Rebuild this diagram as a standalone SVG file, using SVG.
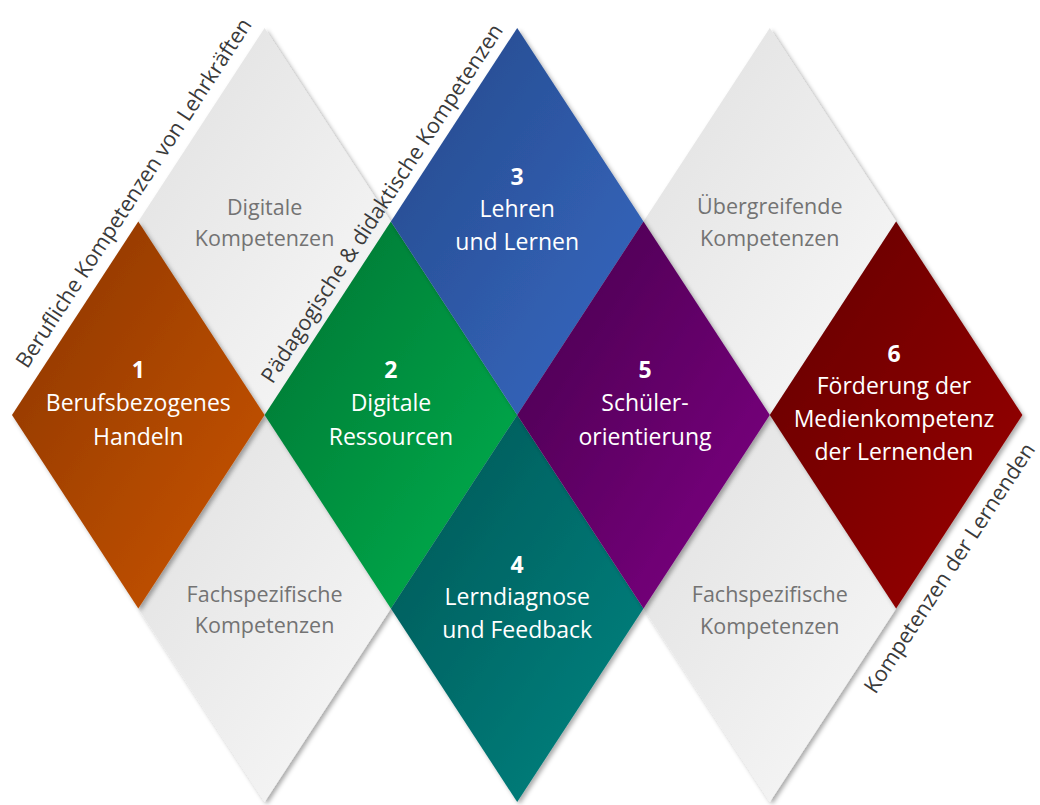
<svg xmlns="http://www.w3.org/2000/svg" width="1040" height="805" viewBox="0 0 1040 805">
  <defs>
    <filter id="sh" x="-10%" y="-10%" width="125%" height="125%">
      <feDropShadow dx="2.5" dy="2.5" stdDeviation="2" flood-color="#000" flood-opacity="0.33"/>
    </filter>
    <linearGradient id="gGray" x1="0" y1="0" x2="1" y2="1">
      <stop offset="0" stop-color="#e0e0e0"/>
      <stop offset="1" stop-color="#f9f9f9"/>
    </linearGradient>
    <linearGradient id="gOrange" x1="0" y1="0" x2="1" y2="1">
      <stop offset="0" stop-color="#8a3500"/>
      <stop offset="1" stop-color="#cc5600"/>
    </linearGradient>
    <linearGradient id="gGreen" x1="0" y1="0" x2="1" y2="1">
      <stop offset="0" stop-color="#007232"/>
      <stop offset="1" stop-color="#00b24e"/>
    </linearGradient>
    <linearGradient id="gBlue" x1="0" y1="0" x2="1" y2="1">
      <stop offset="0" stop-color="#25488a"/>
      <stop offset="1" stop-color="#376ac4"/>
    </linearGradient>
    <linearGradient id="gTeal" x1="0" y1="0" x2="1" y2="1">
      <stop offset="0" stop-color="#005656"/>
      <stop offset="1" stop-color="#008682"/>
    </linearGradient>
    <linearGradient id="gPurple" x1="0" y1="0" x2="1" y2="1">
      <stop offset="0" stop-color="#46004c"/>
      <stop offset="1" stop-color="#800085"/>
    </linearGradient>
    <linearGradient id="gRed" x1="0" y1="0" x2="1" y2="1">
      <stop offset="0" stop-color="#620000"/>
      <stop offset="1" stop-color="#9c0000"/>
    </linearGradient>
  </defs>
  <style>
    .d { filter: url(#sh); }
    .t { font-family: "Open Sans", "Liberation Sans", sans-serif; font-size: 23px; fill: #ffffff; text-anchor: middle; }
    .n { font-weight: bold; }
    .g { font-family: "Open Sans", "Liberation Sans", sans-serif; font-size: 21.5px; fill: #737373; text-anchor: middle; }
    .lab { font-family: "Open Sans", "Liberation Sans", sans-serif; font-size: 21.5px; fill: #3a3a3a; }
  </style>
  <rect width="1040" height="805" fill="#ffffff"/>

  <g id="gray-digitale">
    <polygon class="d" points="264.6,28 390.9,221.5 264.6,415 138.3,221.5" fill="url(#gGray)"/>
    <text class="g" x="264.6" y="214.5">Digitale</text>
    <text class="g" x="264.6" y="246">Kompetenzen</text>
  </g>
  <g id="gray-fach-left">
    <polygon class="d" points="264.6,415 390.9,608.5 264.6,802 138.3,608.5" fill="url(#gGray)"/>
    <text class="g" x="264.6" y="601.5">Fachspezifische</text>
    <text class="g" x="264.6" y="633">Kompetenzen</text>
  </g>
  <g id="gray-uebergreifend">
    <polygon class="d" points="769.8,28 896.1,221.5 769.8,415 643.5,221.5" fill="url(#gGray)"/>
    <text class="g" x="769.8" y="214">Übergreifende</text>
    <text class="g" x="769.8" y="245.5">Kompetenzen</text>
  </g>
  <g id="gray-fach-right">
    <polygon class="d" points="769.8,415 896.1,608.5 769.8,802 643.5,608.5" fill="url(#gGray)"/>
    <text class="g" x="769.8" y="602">Fachspezifische</text>
    <text class="g" x="769.8" y="633.5">Kompetenzen</text>
  </g>

  <g id="node1">
    <polygon class="d" points="138.3,221.5 264.6,415 138.3,608.5 12,415" fill="url(#gOrange)"/>
    <text class="t n" x="138.3" y="378">1</text>
    <text class="t" x="138.3" y="411">Berufsbezogenes</text>
    <text class="t" x="138.3" y="444.5">Handeln</text>
  </g>
  <g id="node2">
    <polygon class="d" points="390.9,221.5 517.2,415 390.9,608.5 264.6,415" fill="url(#gGreen)"/>
    <text class="t n" x="390.9" y="378">2</text>
    <text class="t" x="390.9" y="411">Digitale</text>
    <text class="t" x="390.9" y="444.5">Ressourcen</text>
  </g>
  <g id="node3">
    <polygon class="d" points="517.2,28 643.5,221.5 517.2,415 390.9,221.5" fill="url(#gBlue)"/>
    <text class="t n" x="517.2" y="185">3</text>
    <text class="t" x="517.2" y="217">Lehren</text>
    <text class="t" x="517.2" y="250">und Lernen</text>
  </g>
  <g id="node4">
    <polygon class="d" points="517.2,415 643.5,608.5 517.2,802 390.9,608.5" fill="url(#gTeal)"/>
    <text class="t n" x="517.2" y="573">4</text>
    <text class="t" x="517.2" y="605">Lerndiagnose</text>
    <text class="t" x="517.2" y="638">und Feedback</text>
  </g>
  <g id="node5">
    <polygon class="d" points="643.5,221.5 769.8,415 643.5,608.5 517.2,415" fill="url(#gPurple)"/>
    <text class="t n" x="645" y="378">5</text>
    <text class="t" x="645" y="411">Schüler-</text>
    <text class="t" x="645" y="444.5">orientierung</text>
  </g>
  <g id="node6">
    <polygon class="d" points="896.1,221.5 1022.4,415 896.1,608.5 769.8,415" fill="url(#gRed)"/>
    <text class="t n" x="894" y="361.5">6</text>
    <text class="t" x="894" y="393.5">Förderung der</text>
    <text class="t" x="894" y="427">Medienkompetenz</text>
    <text class="t" x="894" y="460">der Lernenden</text>
  </g>

  <g id="labels">
    <text class="lab" text-anchor="middle" transform="translate(139.95,197) rotate(-56.87)">Berufliche Kompetenzen von Lehrkräften</text>
    <text class="lab" text-anchor="middle" transform="translate(388.1,207.4) rotate(-56.87)">Pädagogische &amp; didaktische Kompetenzen</text>
    <text class="lab" text-anchor="start" font-size="21" transform="translate(875.4,695.1) rotate(-56.87)">Kompetenzen der Lernenden</text>
  </g>
</svg>
